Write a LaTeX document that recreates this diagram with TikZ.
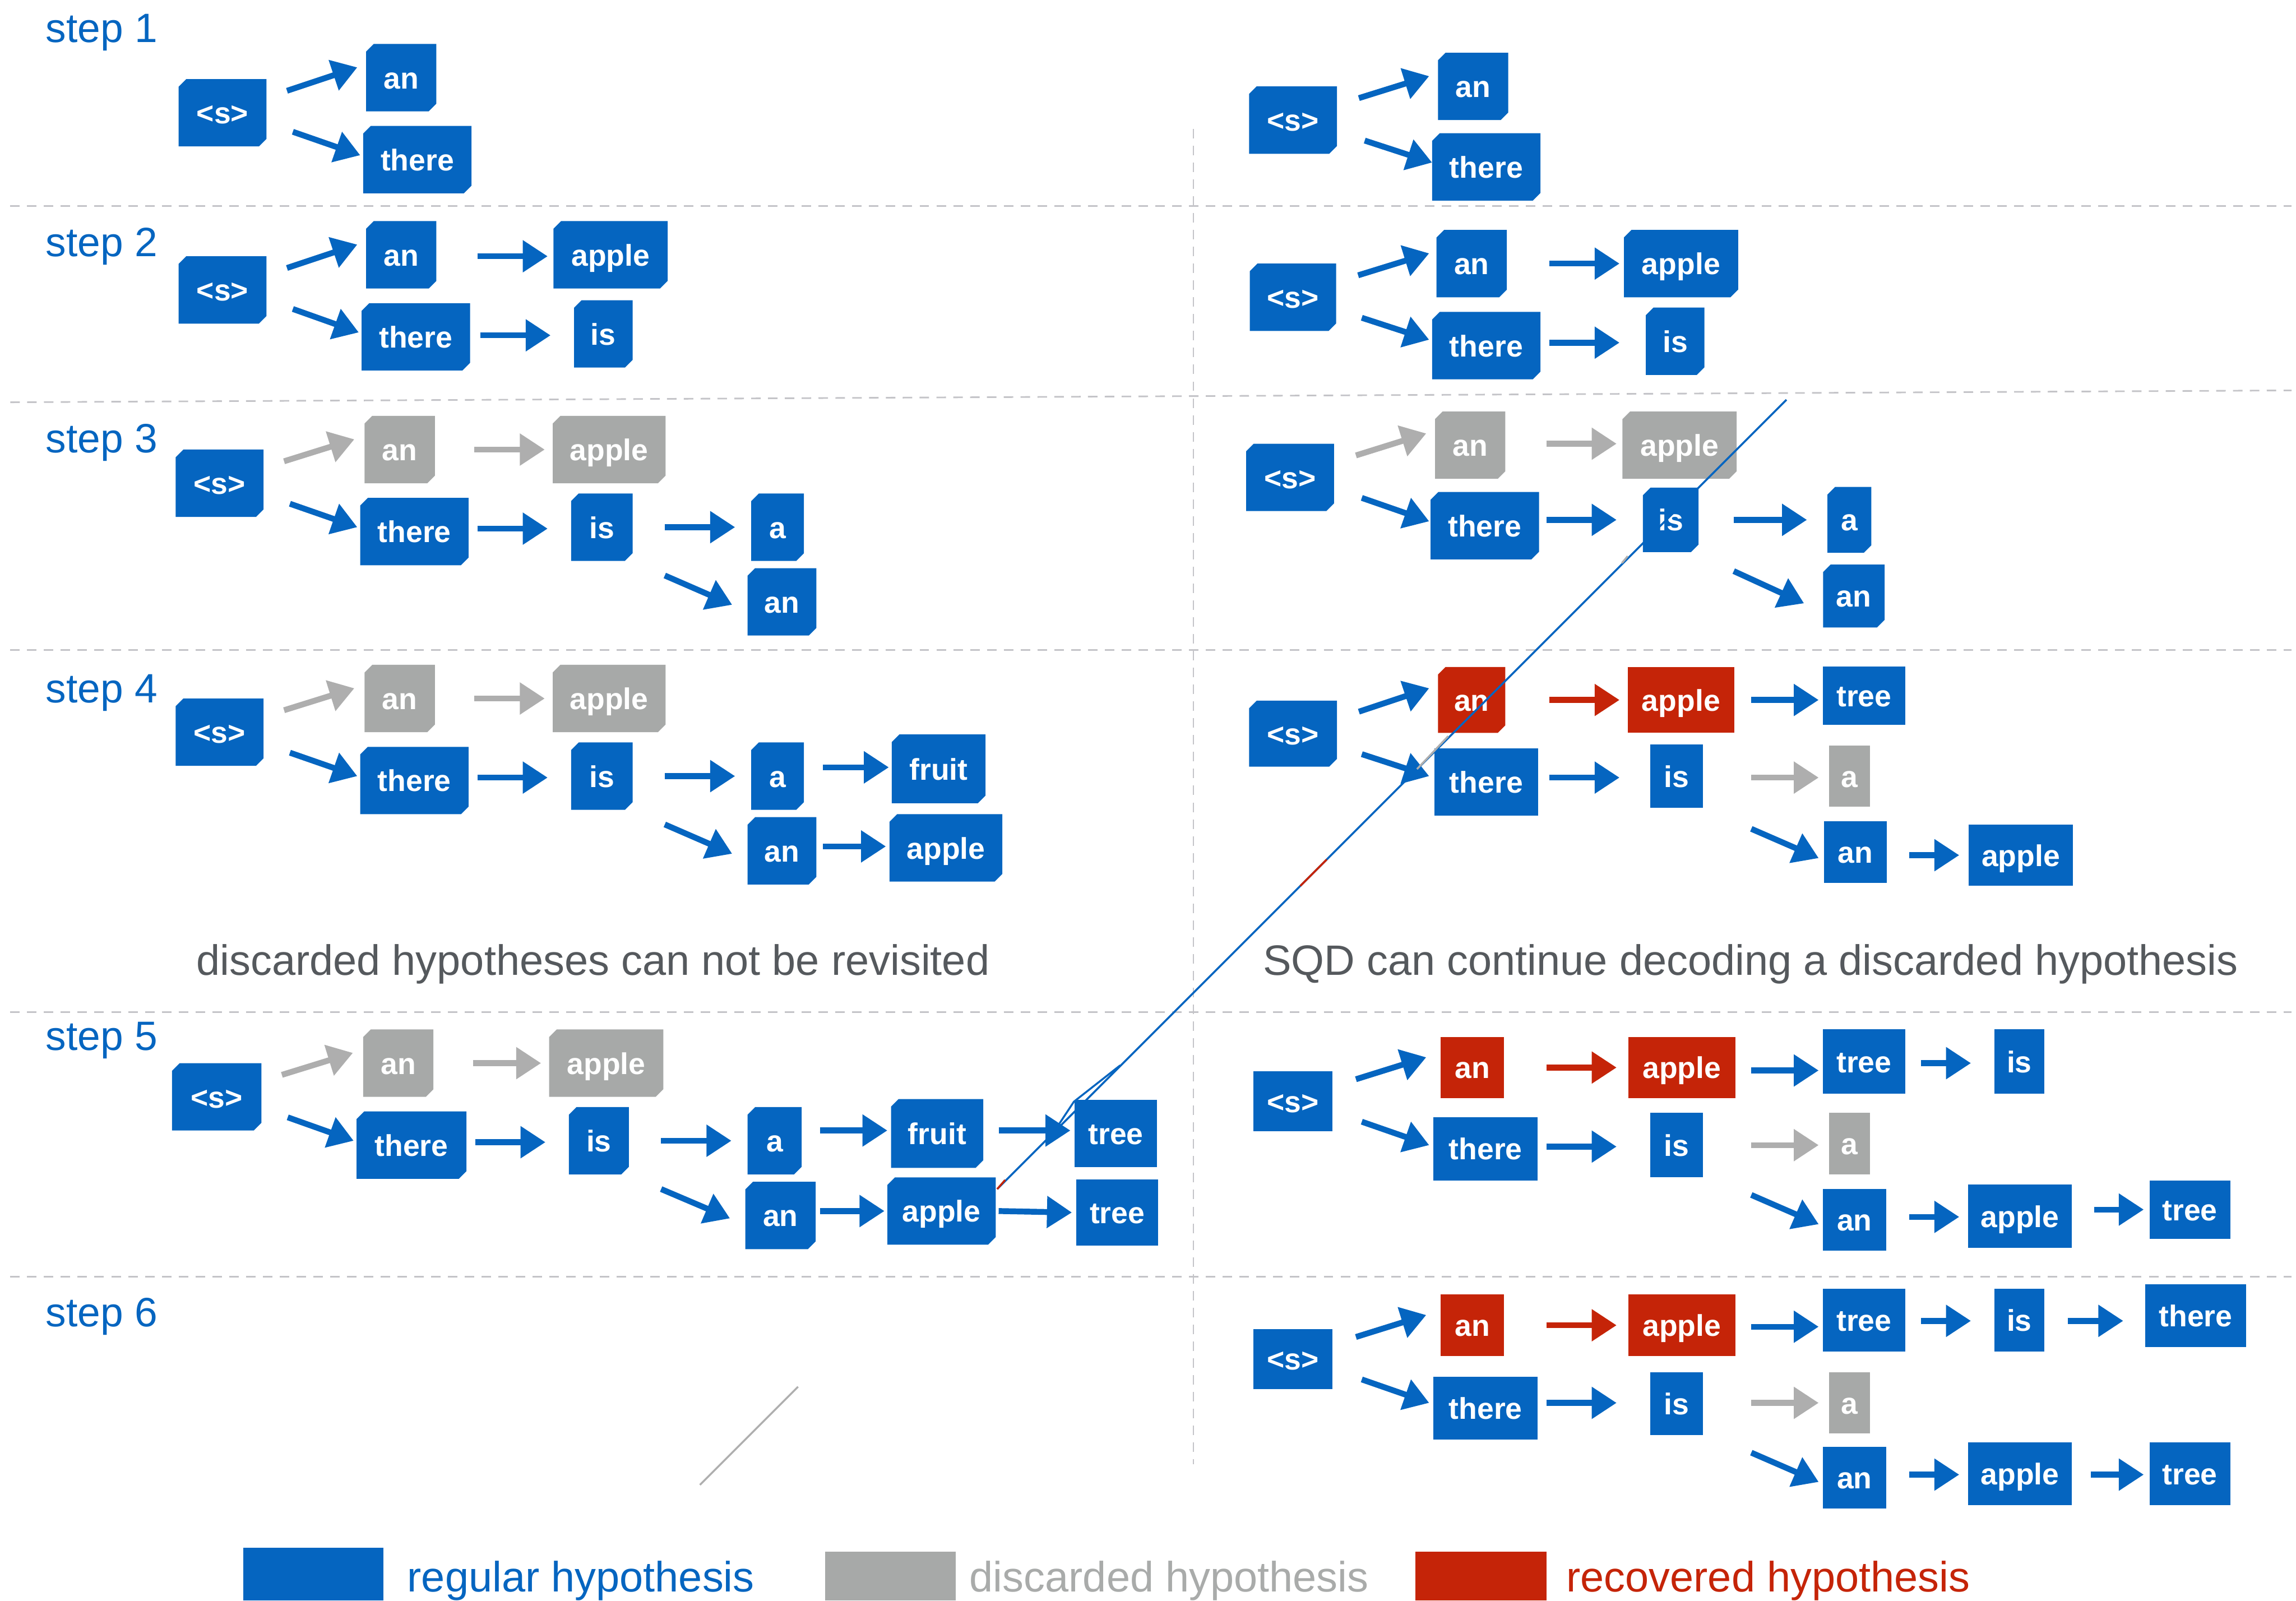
\documentclass[tikz,border=0pt]{standalone}
\usepackage{fontspec}
\setmainfont{Liberation Sans}
\usetikzlibrary{arrows.meta,calc,shapes.misc}
\definecolor{hblue}{HTML}{0565C0}
\definecolor{hgray}{HTML}{A7A9A8}
\definecolor{hred}{HTML}{C52408}
\definecolor{agray}{HTML}{AEAEAE}
\definecolor{dashgray}{HTML}{C4C4C8}
\definecolor{txtgray}{HTML}{55595D}
\definecolor{leggray}{HTML}{A9ABAA}
\newcommand\boxfont{\fontsize{20.5pt}{20.5pt}\selectfont\bfseries}
\newcommand\labfont{\fontsize{28pt}{28pt}\selectfont}
\newcommand\capfont{\fontsize{29pt}{29pt}\selectfont}
\newcommand\hyp[6]{\node[#1, minimum width=#4, minimum height=#5] (#2) at (#3) {#6};}
\newcommand\arw[5]{\draw[#1] ($(#2)+(#3)$) -- ($(#4)+(#5)$);}
\begin{document}
\begin{tikzpicture}[x=1pt,y=-1pt,
  box/.style={text=white, font=\boxfont, inner sep=0pt, outer sep=0pt, text height=15pt, text depth=0pt},
  ch/.style={chamfered rectangle, chamfered rectangle xsep=2.6pt, chamfered rectangle ysep=2.6pt, chamfered rectangle corners={north west,south east}},
  bb/.style={box, ch, fill=hblue},
  bg/.style={box, ch, fill=hgray},
  br/.style={box, ch, fill=hred},
  sb/.style={box, rectangle, fill=hblue},
  sg/.style={box, rectangle, fill=hgray},
  sr/.style={box, rectangle, fill=hred},
  arrbase/.style={line width=4pt, -{Triangle[length=17pt,width=21pt]}},
  ab/.style={arrbase, draw=hblue, fill=hblue},
  ag/.style={arrbase, draw=agray, fill=agray},
  ar/.style={arrbase, draw=hred, fill=hred},
  sepline/.style={draw=dashgray, line width=1.1pt, dash pattern=on 6.5pt off 5pt},
  steplab/.style={anchor=base west, inner sep=0pt, text=hblue, font=\labfont},
  caption/.style={anchor=base, inner sep=0pt, text=txtgray, font=\capfont},
  legtext/.style={anchor=base west, inner sep=0pt, font=\capfont},
  swatch/.style={inner sep=0pt, outer sep=0pt, minimum height=36pt}
]
\useasboundingbox (0,0) rectangle (1568,1093);
\fill[white] (0,0) rectangle (1568,1093);

% separators
\draw[sepline] (7,140.8) -- (1565,140.8);
\draw[sepline] (7,274.7) -- (1565,266.6);
\draw[sepline] (7,444) -- (1565,444);
\draw[sepline] (7,691) -- (1565,691);
\draw[sepline] (7,871.7) -- (1565,871.7);
\draw[sepline] (815,88) -- (815,1000);

% step labels
\node[steplab] (lab1) at (31,29) {step 1};
\node[steplab] (lab2) at (31,175) {step 2};
\node[steplab] (lab3) at (31,309) {step 3};
\node[steplab] (lab4) at (31,480) {step 4};
\node[steplab] (lab5) at (31,717) {step 5};
\node[steplab] (lab6) at (31,906) {step 6};

% ================= LEFT =================
% step 1
\hyp{bb}{L1s}{152,77}{60}{46}{<s>}
\hyp{bb}{L1an}{274,53}{48}{46}{an}
\hyp{bb}{L1th}{285,109}{74}{46}{there}
\arw{ab}{L1s.east}{14,-15}{L1an.west}{-6,-7}
\arw{ab}{L1s.east}{18,13}{L1th.west}{-2,-3}

% step 2
\hyp{bb}{L2s}{152,198}{60}{46}{<s>}
\hyp{bb}{L2an}{274,174}{48}{46}{an}
\hyp{bb}{L2th}{284,230}{74}{46}{there}
\hyp{bb}{L2ap}{417,174}{78}{46}{apple}
\hyp{bb}{L2is}{412,228}{40}{46}{is}
\arw{ab}{L2s.east}{14,-15}{L2an.west}{-6,-7}
\arw{ab}{L2s.east}{18,13}{L2th.west}{-2,-3}
\arw{ab}{L2an.east}{28,1}{L2ap.west}{-4,1}
\arw{ab}{L2th.east}{7,-1}{L2is.west}{-16,1}

% step 3
\hyp{bb}{L3s}{150,330}{60}{46}{<s>}
\hyp{bg}{L3an}{273,307}{48}{46}{an}
\hyp{bg}{L3ap}{416,307}{77}{46}{apple}
\hyp{bb}{L3th}{283,363}{74}{46}{there}
\hyp{bb}{L3is}{411,360}{42}{46}{is}
\hyp{bb}{L3a}{531,360}{36}{46}{a}
\hyp{bb}{L3an2}{534,411}{47}{46}{an}
\arw{ag}{L3s.east}{14,-15}{L3an.west}{-7,-7}
\arw{ag}{L3an.east}{27,0}{L3ap.west}{-5.5,0}
\arw{ab}{L3s.east}{18,14}{L3th.west}{-2,-3}
\arw{ab}{L3th.east}{6,-2}{L3is.west}{-16,1}
\arw{ab}{L3is.east}{22,0}{L3a.west}{-11,0}
\arw{ab}{L3is.east}{22,33}{L3an2.west}{-10.5,2}

% step 4
\hyp{bb}{L4s}{150,500}{60}{46}{<s>}
\hyp{bg}{L4an}{273,477}{48}{46}{an}
\hyp{bg}{L4ap}{416,477}{77}{46}{apple}
\hyp{bb}{L4th}{283,533}{74}{46}{there}
\hyp{bb}{L4is}{411,530}{42}{46}{is}
\hyp{bb}{L4a}{531,530}{36}{46}{a}
\hyp{bb}{L4an2}{534,581}{47}{46}{an}
\hyp{bb}{L4fr}{641,525}{64}{47}{fruit}
\hyp{bb}{L4ap2}{646,579}{77}{46}{apple}
\arw{ag}{L4s.east}{14,-15}{L4an.west}{-7,-7}
\arw{ag}{L4an.east}{27,0}{L4ap.west}{-5.5,0}
\arw{ab}{L4s.east}{18,14}{L4th.west}{-2,-3}
\arw{ab}{L4th.east}{6,-2}{L4is.west}{-16,1}
\arw{ab}{L4is.east}{22,0}{L4a.west}{-11,0}
\arw{ab}{L4is.east}{22,33}{L4an2.west}{-10.5,2}
\arw{ab}{L4a.east}{13,-6}{L4fr.west}{-2,-1}
\arw{ab}{L4an2.east}{4.5,-3}{L4ap2.west}{-2.5,-1}

\node[caption] (capL) at (405,666) {discarded hypotheses can not be revisited};

% step 5
\hyp{bb}{L5s}{148,749}{61}{46}{<s>}
\hyp{bg}{L5an}{272,726}{48}{46}{an}
\hyp{bg}{L5ap}{414,726}{78}{46}{apple}
\hyp{bb}{L5th}{281,782}{75}{46}{there}
\hyp{bb}{L5is}{409,779}{41}{46}{is}
\hyp{bb}{L5a}{529,779}{37}{46}{a}
\hyp{bb}{L5an2}{533,830}{48}{46}{an}
\hyp{bb}{L5fr}{640,774}{63}{47}{fruit}
\hyp{bb}{L5ap2}{643,827}{74}{46}{apple}
\hyp{sb}{L5tr1}{762,774}{56}{46}{tree}
\hyp{sb}{L5tr2}{763,828}{56}{45}{tree}
\arw{ag}{L5s.east}{14,-15}{L5an.west}{-7,-7}
\arw{ag}{L5an.east}{27,0}{L5ap.west}{-5.5,0}
\arw{ab}{L5s.east}{18,14}{L5th.west}{-2,-3}
\arw{ab}{L5th.east}{6,-2}{L5is.west}{-16,1}
\arw{ab}{L5is.east}{22,0}{L5a.west}{-11,0}
\arw{ab}{L5is.east}{22,33}{L5an2.west}{-10.5,2}
\arw{ab}{L5a.east}{12.5,-7}{L5fr.west}{-2.5,-2}
\arw{ab}{L5an2.east}{3,-3}{L5ap2.west}{-2,0}
\arw{ab}{L5fr.east}{10.5,-2}{L5tr1.west}{-3,-2}
\arw{ab}{L5ap2.east}{2,0}{L5tr2.west}{-3,0}

% ================= RIGHT =================
% step 1
\hyp{bb}{R1s}{883,82}{60}{46}{<s>}
\hyp{bb}{R1an}{1006,59}{48}{46}{an}
\hyp{bb}{R1th}{1015,114}{74}{46}{there}
\arw{ab}{R1s.east}{15,-15}{R1an.west}{-6,-7}
\arw{ab}{R1s.east}{19,14}{R1th.west}{0,-3}

% step 2
\hyp{bb}{R2s}{883,203}{59}{46}{<s>}
\hyp{bb}{R2an}{1005,180}{48}{46}{an}
\hyp{bb}{R2th}{1015,236}{74}{46}{there}
\hyp{bb}{R2ap}{1148,180}{78}{46}{apple}
\hyp{bb}{R2is}{1144,233}{40}{46}{is}
\arw{ab}{R2s.east}{15,-15}{R2an.west}{-5,-7}
\arw{ab}{R2s.east}{17.5,14}{R2th.west}{-2,-4}
\arw{ab}{R2an.east}{29,0}{R2ap.west}{-3,0}
\arw{ab}{R2th.east}{6,-2}{R2is.west}{-18,1}

% step 3
\hyp{bb}{R3s}{881,326}{60}{46}{<s>}
\hyp{bg}{R3an}{1004,304}{48}{46}{an}
\hyp{bg}{R3ap}{1147,304}{78}{46}{apple}
\hyp{bb}{R3th}{1014,359}{74}{46}{there}
\hyp{bb}{R3is}{1141,355}{38}{44}{is}
\hyp{bb}{R3a}{1263,355}{30}{45}{a}
\hyp{bb}{R3an2}{1266,407}{42}{43}{an}
\arw{ag}{R3s.east}{15,-15}{R3an.west}{-6,-8}
\arw{ag}{R3an.east}{28,-1}{R3ap.west}{-4,-1}
\arw{ab}{R3s.east}{19,14}{R3th.west}{-1,-3}
\arw{ab}{R3th.east}{5,-4}{R3is.west}{-18,0}
\arw{ab}{R3is.east}{24,0}{R3a.west}{-14,0}
\arw{ab}{R3is.east}{24,35}{R3an2.west}{-13,5}

% step 4
\hyp{bb}{R4s}{883,501}{60}{45}{<s>}
\hyp{br}{R4an}{1005,478}{46}{45}{an}
\hyp{sr}{R4ap}{1148,478}{73}{45}{apple}
\hyp{sb}{R4tr}{1273,475}{56}{40}{tree}
\hyp{sb}{R4th}{1015,534}{71}{46}{there}
\hyp{sb}{R4is}{1145,530}{36}{43}{is}
\hyp{sg}{R4a}{1263,530}{28}{42}{a}
\hyp{sb}{R4an2}{1267,582}{43}{42}{an}
\hyp{sb}{R4ap2}{1380,584}{71}{42}{apple}
\arw{ab}{R4s.east}{15,-15}{R4an.west}{-6,-8}
\arw{ar}{R4an.east}{30,0}{R4ap.west}{-5.5,0}
\arw{ab}{R4ap.east}{11.5,0}{R4tr.west}{-3,3}
\arw{ab}{R4s.east}{17,14}{R4th.west}{-3.5,-4}
\arw{ab}{R4th.east}{7.5,-3}{R4is.west}{-21,1}
\arw{ag}{R4is.east}{33,1}{R4a.west}{-7,1}
\arw{ab}{R4is.east}{33,36}{R4an2.west}{-3.5,4}
\arw{ab}{R4an2.east}{15.5,2}{R4ap2.west}{-6.5,0}

\node[caption] (capR) at (1195.5,666) {SQD can continue decoding a discarded hypothesis};

% step 5
\hyp{sb}{R5s}{883,752}{54}{41}{<s>}
\hyp{sr}{R5an}{1005.5,729}{43}{42}{an}
\hyp{sr}{R5ap}{1148.5,729}{73}{42}{apple}
\hyp{sb}{R5tr}{1273,725}{56}{44}{tree}
\hyp{sb}{R5is1}{1379,725}{34}{44}{is}
\hyp{sb}{R5th}{1014.5,784.5}{71}{43}{there}
\hyp{sb}{R5is2}{1145,782}{36}{44}{is}
\hyp{sg}{R5a}{1263,781}{28}{42}{a}
\hyp{sb}{R5an2}{1266.5,833}{43}{42}{an}
\hyp{sb}{R5ap2}{1379.5,830.5}{71}{43}{apple}
\hyp{sb}{R5tr2}{1495.5,826}{55}{40}{tree}
\arw{ab}{R5s.east}{16,-15}{R5an.west}{-10,-7}
\arw{ar}{R5an.east}{29,0}{R5ap.west}{-8,0}
\arw{ab}{R5ap.east}{11,2}{R5tr.west}{-3,6}
\arw{ab}{R5tr.east}{11,1}{R5is1.west}{-16,1}
\arw{ab}{R5s.east}{20,14}{R5th.west}{-3,-2.5}
\arw{ab}{R5th.east}{6,-1.5}{R5is2.west}{-23,1}
\arw{ag}{R5is2.east}{33,0}{R5a.west}{-7,1}
\arw{ab}{R5is2.east}{33,34}{R5an2.west}{-3,3}
\arw{ab}{R5an2.east}{16,-2}{R5ap2.west}{-6,0.5}
\arw{ab}{R5ap2.east}{15,-4.5}{R5tr2.west}{-4,0}

% step 6
\hyp{sb}{R6s}{883,928}{54}{41}{<s>}
\hyp{sr}{R6an}{1005.5,905}{43}{42}{an}
\hyp{sr}{R6ap}{1148.5,905}{73}{42}{apple}
\hyp{sb}{R6tr}{1273,901.5}{56}{43}{tree}
\hyp{sb}{R6is1}{1379,901.5}{34}{43}{is}
\hyp{sb}{R6th1}{1499.5,898.5}{69}{43}{there}
\hyp{sb}{R6th2}{1014.5,961.5}{71}{43}{there}
\hyp{sb}{R6is2}{1145,958.5}{36}{43}{is}
\hyp{sg}{R6a}{1263,958}{28}{42}{a}
\hyp{sb}{R6an2}{1266.5,1009}{43}{42}{an}
\hyp{sb}{R6ap2}{1379.5,1006.5}{71}{43}{apple}
\hyp{sb}{R6tr2}{1495.5,1006.5}{55}{43}{tree}
\arw{ab}{R6s.east}{16,-15}{R6an.west}{-10,-7}
\arw{ar}{R6an.east}{29,0}{R6ap.west}{-8,0}
\arw{ab}{R6ap.east}{11,1}{R6tr.west}{-3,4.5}
\arw{ab}{R6tr.east}{11,0.5}{R6is1.west}{-16,0.5}
\arw{ab}{R6is1.east}{16,0.5}{R6th1.west}{-15,3.5}
\arw{ab}{R6s.east}{20,14}{R6th2.west}{-3,-3.5}
\arw{ab}{R6th2.east}{6,-3.5}{R6is2.west}{-23,-0.5}
\arw{ag}{R6is2.east}{33,-0.5}{R6a.west}{-7,0}
\arw{ab}{R6is2.east}{33,33.5}{R6an2.west}{-3,3}
\arw{ab}{R6an2.east}{16,-2}{R6ap2.west}{-6,0.5}
\arw{ab}{R6ap2.east}{13,0.5}{R6tr2.west}{-4,0.5}

% stray lines
\draw[hblue, line width=1.3pt] (681,812) -- (1220,273);
\draw[hblue, line width=1.3pt] (723,768) -- (733.4,752.3) -- (765,727.5);
\draw[hred, line width=1.3pt] (681,812) -- (686.4,805.8);
\draw[hred, line width=1.3pt] (888,605) -- (906,587);
\draw[agray, line width=1.3pt] (967.7,525.2) -- (989,502.7);
\draw[agray, line width=1.3pt] (1107.6,384.5) -- (1111.6,379.8);
\draw[agray, line width=1.3pt] (478,1014) -- (545,947);

% legend
\node[swatch, fill=hblue, minimum width=96pt, minimum height=36pt] (legB) at (214,1075) {};
\node[legtext, text=hblue] (legBt) at (278,1087) {regular hypothesis};
\node[swatch, fill=hgray, minimum width=89pt, minimum height=33.4pt] (legG) at (608,1076.3) {};
\node[legtext, text=leggray] (legGt) at (662,1087) {discarded hypothesis};
\node[swatch, fill=hred, minimum width=89.5pt, minimum height=33.4pt] (legR) at (1011.5,1076.3) {};
\node[legtext, text=hred] (legRt) at (1069.5,1087) {recovered hypothesis};
\end{tikzpicture}
\end{document}
